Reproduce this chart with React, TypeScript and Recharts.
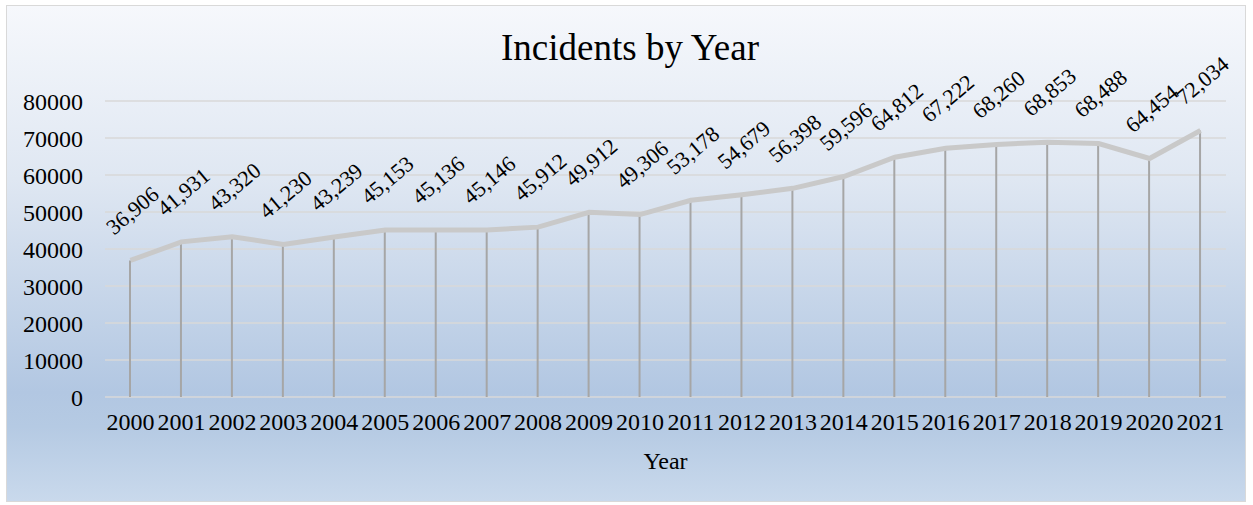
import { Bar, CartesianGrid, ComposedChart, LabelList, Line, XAxis, YAxis } from "recharts";

const years = [
  "2000", "2001", "2002", "2003", "2004", "2005", "2006", "2007", "2008", "2009", "2010",
  "2011", "2012", "2013", "2014", "2015", "2016", "2017", "2018", "2019", "2020", "2021",
];
const incidents = [
  36906, 41931, 43320, 41230, 43239, 45153, 45136, 45146, 45912, 49912, 49306,
  53178, 54679, 56398, 59596, 64812, 67222, 68260, 68853, 68488, 64454, 72034,
];
const yTicks = [0, 10000, 20000, 30000, 40000, 50000, 60000, 70000, 80000];

const data = years.map((year, i) => ({ year, incidents: incidents[i] }));

const serif = "Liberation Serif, Times New Roman, serif";

function RotatedLabel(props: any) {
  const { x, y, value } = props;
  if (x == null || y == null) return null;
  const cx = Number(x) + 2;
  const cy = Number(y) - 50;
  return (
    <text
      x={cx}
      y={cy}
      transform={`rotate(-40 ${cx} ${cy})`}
      textAnchor="middle"
      dominantBaseline="central"
      style={{ fontFamily: serif, fontSize: 22 }}
      fill="#000"
    >
      {Number(value).toLocaleString("en-US")}
    </text>
  );
}

const tickStyle = { fill: "#000", fontSize: 24, style: { fontFamily: serif } };

export default function App() {
  return (
    <div
      style={{
        position: "absolute",
        left: 0,
        top: 0,
        width: 1253,
        height: 505,
        background: "#fff",
        fontFamily: serif,
      }}
    >
      <div
        style={{
          position: "absolute",
          left: 6,
          top: 5,
          width: 1238,
          height: 495,
          border: "1.5px solid #d9d9d9",
          background:
            "linear-gradient(180deg, #f6f8fc 0%, #dfe7f2 35%, #b2c7e2 78%, #b5cae3 85%, #c9d9ec 100%)",
        }}
      >
        <div
          style={{
            position: "absolute",
            left: 623,
            top: 20,
            transform: "translateX(-50%)",
            fontSize: 37,
            lineHeight: "44px",
            whiteSpace: "nowrap",
            color: "#000",
          }}
        >
          Incidents by Year
        </div>
        <ComposedChart
          width={1238}
          height={495}
          data={data}
          margin={{ top: 95, right: 19, bottom: 0, left: 0 }}
          style={{ position: "absolute", left: 0, top: 0, fontFamily: serif }}
        >
          <CartesianGrid vertical={false} stroke="#d9d9d9" strokeWidth={1.5} />
          <XAxis
            dataKey="year"
            axisLine={false}
            tickLine={false}
            tickSize={0}
            tickMargin={16}
            height={104}
            interval={0}
            tick={tickStyle}
            label={{ value: "Year", position: "insideBottom", offset: 32, fill: "#000", fontSize: 24, style: { fontFamily: serif } }}
          />
          <YAxis
            domain={[0, 80000]}
            ticks={yTicks}
            axisLine={false}
            tickLine={false}
            tickSize={0}
            tickMargin={22}
            width={98}
            tick={tickStyle}
          />
          <Bar dataKey="incidents" barSize={2} fill="#a6a6a6" isAnimationActive={false} />
          <Line
            type="linear"
            dataKey="incidents"
            stroke="#c9c9c9"
            strokeWidth={5}
            dot={false}
            activeDot={false}
            isAnimationActive={false}
          >
            <LabelList dataKey="incidents" content={RotatedLabel} />
          </Line>
        </ComposedChart>
      </div>
    </div>
  );
}
